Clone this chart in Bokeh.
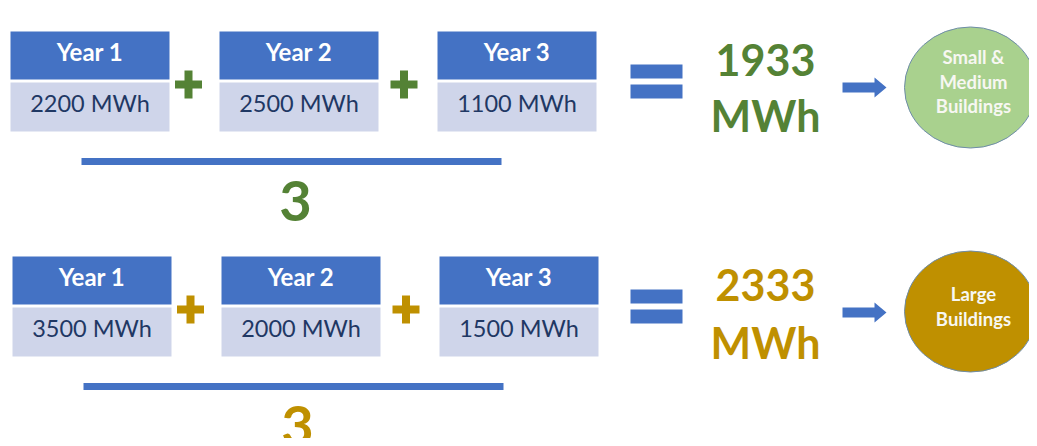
from bokeh.plotting import figure
from bokeh.models import Range1d
from bokeh.core.properties import value
from bokeh.embed import file_html
from bokeh.resources import INLINE

# ---- data ----
year_labels = ["Year 1", "Year 2", "Year 3"]
small_medium_mwh = [2200, 2500, 1100]
large_mwh = [3500, 2000, 1500]
divisor = 3
averages = [1933, 2333]
categories = [["Small &", "Medium", "Buildings"], ["Large", "Buildings"]]
unit = "MWh"

# ---- colors ----
BLUE = "#4472C4"
LIGHT = "#CFD5EA"
NAVY = "#1F3864"
GREEN = "#548235"
GOLD = "#BF9000"
CIRCLE_FILL = ["#A9D18E", "#BF9000"]
ROW_COLOR = [GREEN, GOLD]

FONT = value("Lato")

W, H = 1029, 438
p = figure(width=W, height=H, output_backend="svg", toolbar_location=None,
           x_range=Range1d(0, W), y_range=Range1d(H, 0),
           min_border=0, outline_line_color=None)
p.axis.visible = False
p.grid.visible = False
p.background_fill_color = "white"
p.border_fill_color = "white"

rows = [small_medium_mwh, large_mwh]
row_dy = [0, 225]
row_dx = [0, 2]
box_lefts = [10, 219, 437]
box_w = 159

for r, vals in enumerate(rows):
    dy = row_dy[r]
    dx = row_dx[r]
    col = ROW_COLOR[r]
    lefts = [b + dx for b in box_lefts]
    rights = [l + box_w for l in lefts]
    centers = [(l + rr) / 2 for l, rr in zip(lefts, rights)]
    # header boxes
    p.quad(left=lefts, right=rights, top=[31 + dy] * 3, bottom=[79 + dy] * 3,
           fill_color=BLUE, line_color=None)
    p.quad(left=lefts, right=rights, top=[82 + dy] * 3, bottom=[131 + dy] * 3,
           fill_color=LIGHT, line_color=None)
    p.text(x=centers, y=[51 + dy] * 3, text=year_labels, text_font=FONT,
           text_font_style="bold", text_font_size="24px", text_color="white",
           text_align="center", text_baseline="middle")
    p.text(x=centers, y=[102 + dy] * 3, text=[f"{v} {unit}" for v in vals],
           text_font=FONT, text_font_size="23.5px", text_color=NAVY,
           text_align="center", text_baseline="middle")
    # plus signs
    for i in range(2):
        cx = (rights[i] + lefts[i + 1]) / 2 - 6 + (0 if i == 0 else 2)
        cy = 84 + dy
        p.quad(left=[cx - 13.5], right=[cx + 13.5], top=[cy - 4], bottom=[cy + 4],
               fill_color=col, line_color=None)
        p.quad(left=[cx - 4], right=[cx + 4], top=[cy - 14], bottom=[cy + 14],
               fill_color=col, line_color=None)
    # fraction bar
    p.quad(left=[81 + dx], right=[501 + dx], top=[157.5 + dy], bottom=[164.5 + dy],
           fill_color=BLUE, line_color=None)
    p.text(x=[295 + dx], y=[200 + dy], text=[str(divisor)], text_font=FONT,
           text_font_style="bold", text_font_size="56px", text_color=col,
           text_align="center", text_baseline="middle")
    # equals
    p.quad(left=[630, 630], right=[682, 682], top=[64 + dy, 84 + dy],
           bottom=[78 + dy, 98 + dy], fill_color=BLUE, line_color=None)
    # average
    p.text(x=[765, 765], y=[59 + dy, 115 + dy + (0 if r == 0 else 2)],
           text=[str(averages[r]), unit],
           text_font=FONT, text_font_style="bold", text_font_size="43px",
           text_color=col, text_align="center", text_baseline="middle")
    # arrow
    ay = 87 + dy
    p.patch(x=[842, 874, 874, 886, 874, 874, 842],
            y=[ay - 5, ay - 5, ay - 10, ay, ay + 10, ay + 5, ay + 5],
            fill_color=BLUE, line_color=None)
    # circle
    p.ellipse(x=[970], y=[87 + dy - (0 if r == 0 else 1)], width=132, height=121,
              fill_color=CIRCLE_FILL[r], line_color="#6E8CA8", line_width=1)
    lines = categories[r]
    n = len(lines)
    cyc = 82 + dy
    ys = [cyc + (k - (n - 1) / 2) * 24.5 - 1 for k in range(n)]
    p.text(x=[973] * n, y=ys, text=lines, text_font=FONT,
           text_font_style="bold", text_font_size="18.5px", text_color="#F7F7F2",
           text_align="center", text_baseline="middle")

open("out.html", "w").write(file_html(p, INLINE))
